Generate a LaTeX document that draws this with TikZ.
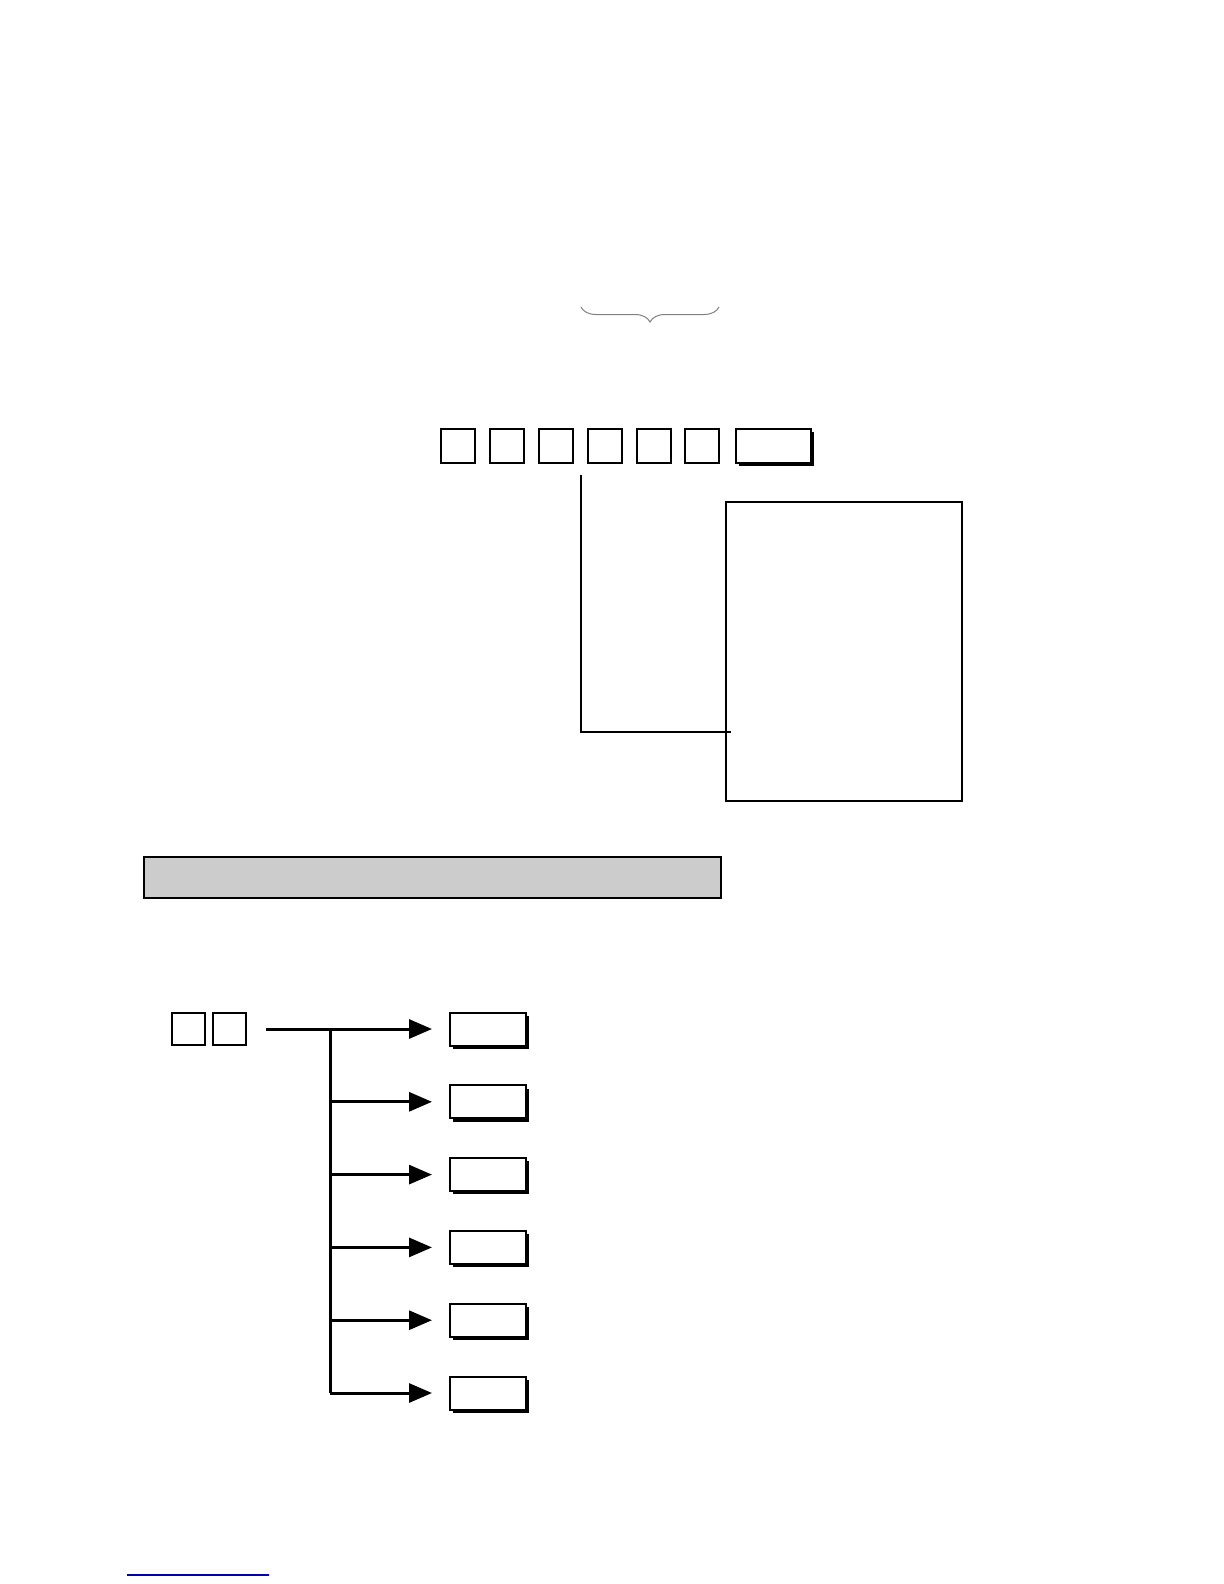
\documentclass[tikz,border=0pt]{standalone}
\usepackage{tikz}
\usetikzlibrary{arrows.meta, positioning, shadows, decorations.pathreplacing}

\begin{document}
\begin{tikzpicture}[x=0.5pt, y=-0.5pt,
  key/.style={draw, line width=1pt, minimum width=17pt, minimum height=17pt, inner sep=0pt},
  widekey/.style={key, fill=white, minimum width=37.5pt,
    drop shadow={shadow xshift=1.6pt, shadow yshift=-1.6pt, fill=black, opacity=1}},
  flow/.style={line width=1.5pt},
  tip/.style={flow, -{Triangle[length=11.5pt, width=9.5pt]}, shorten >=8.5pt}]
% the page
\useasboundingbox (0,0) rectangle (1224,1584);
% the brace over the keys
\draw[gray, line width=0.5pt, decorate, decoration={brace, mirror, amplitude=7.5pt}]
  (581,307) -- (719,307);
% we draw the row of keys
\foreach \k/\xc in {1/458, 2/506.5, 3/555.5, 4/604.5, 5/653.5, 6/702}
  \node[key] (k\k) at (\xc,446) {};
\node[widekey] (enter) at (773.5,446) {};
% the panel and the line that leads to it
\node[draw, line width=1pt, minimum width=118pt, minimum height=149.5pt] (panel) at (844,651.5) {};
\coordinate (tap) at (581,475);
\coordinate (hook) at (731,732);
\draw[line width=1pt] (tap) |- (hook);
% the grey bar
\node[draw, line width=1.2pt, fill=black!20, minimum width=288.5pt, minimum height=20.5pt] (bar) at (432.5,877.5) {};
% the two keys and the branches
\node[key, minimum width=16.5pt, minimum height=16pt] (p1) at (188.5,1029) {};
\node[key, minimum width=16.5pt, minimum height=16pt] (p2) at (229.5,1029) {};
\foreach \i/\yc in {1/1029, 2/1101.8, 3/1174.6, 4/1247.4, 5/1320.2, 6/1393}
{
  \node[widekey, minimum width=38pt, minimum height=16.5pt] (m\i) at (488,\yc) {};
  \coordinate (j\i) at (330,\yc);
  \draw[tip] (j\i) -- (m\i.west);
}
\draw[flow, shorten <=9.5pt] (p2.east) -- (j1);
\draw[flow] (j1) -- (j6);
% the rule at the foot
\draw[blue!70!black, line width=0.6pt] (127,1575) -- (269,1575);
\end{tikzpicture}
\end{document}
